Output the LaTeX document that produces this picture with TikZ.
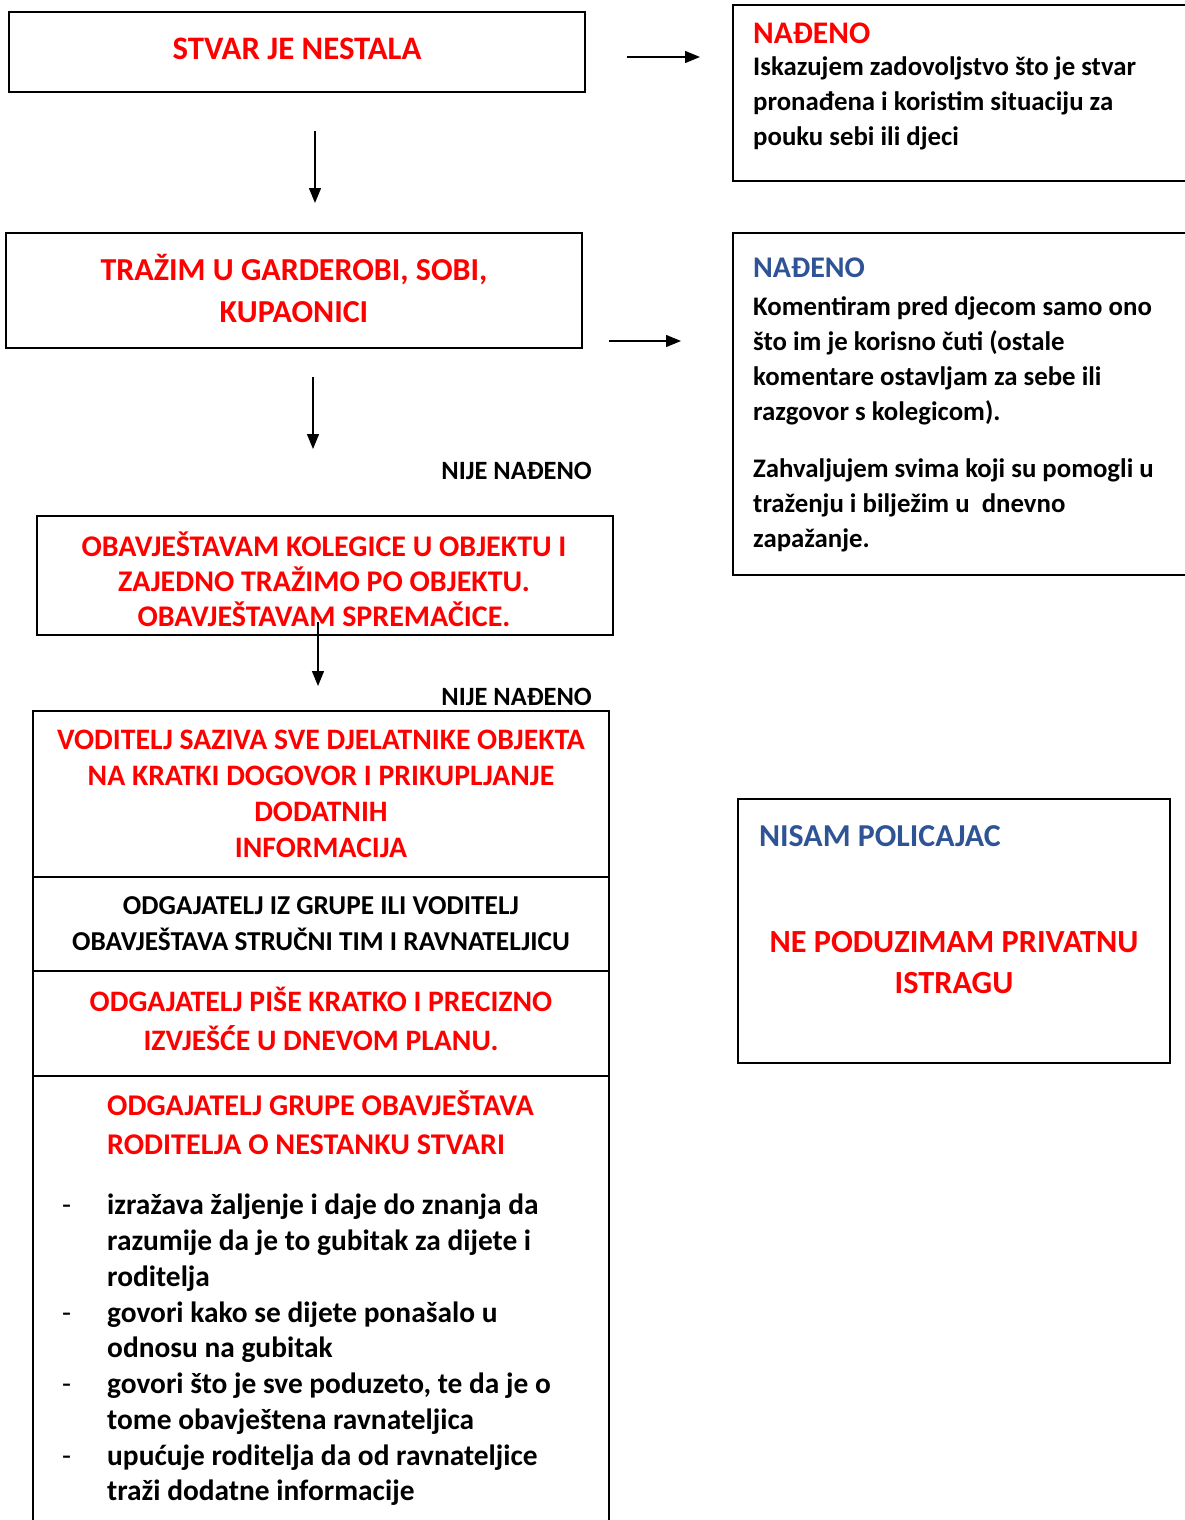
\documentclass[tikz,border=0pt]{standalone}
\usepackage{fontspec}
\setmainfont{Carlito}
\usetikzlibrary{arrows.meta}
\definecolor{wred}{RGB}{255,0,0}
\definecolor{wblue}{RGB}{47,84,150}
\newcommand{\fsz}[2]{\fontsize{#1}{#2}\selectfont}
\newcommand{\dashitem}{\makebox[45pt][l]{\mdseries -}}
\newcommand{\contitem}{\makebox[45pt][l]{}}
\begin{document}
\begin{tikzpicture}[x=1pt,y=-1pt,
  box/.style={draw=black, line width=1.6pt, inner sep=0pt},
  arr/.style={line width=1.4pt, -{Triangle[length=15pt,width=12pt]}},
  txt/.style={inner sep=0pt, font=\bfseries},
  redc/.style={txt, text=wred, align=center},
  blkc/.style={txt, text=black, align=center},
  blkl/.style={txt, text=black, align=left, anchor=west},
  redl/.style={txt, text=wred, align=left, anchor=west},
  bluel/.style={txt, text=wblue, align=left, anchor=west}
]
\useasboundingbox (0,0) rectangle (1185,1520);
\fill[white] (0,0) rectangle (1185,1520);

% left column boxes
\node[box, minimum width=576pt, minimum height=80pt] (b1) at (297,52) {};
\node[redc, font=\bfseries\fsz{32.8}{39}] (t1) at (297,49) {STVAR JE NESTALA};

\node[box, minimum width=576pt, minimum height=115pt] (b2) at (294,290.5) {};
\node[redc, font=\bfseries\fsz{32}{42}] (t2) at (294,288) {TRAŽIM U GARDEROBI, SOBI,\\KUPAONICI};

\node[txt, anchor=east, font=\bfseries\fsz{26.4}{32}] (n1) at (592,471) {NIJE NAĐENO};

\node[box, minimum width=576pt, minimum height=119pt] (b3) at (325,575.5) {};
\node[redc, font=\bfseries\fsz{30}{35}] (t3) at (324,579.5) {OBAVJEŠTAVAM KOLEGICE U OBJEKTU I\\ZAJEDNO TRAŽIMO PO OBJEKTU.\\OBAVJEŠTAVAM SPREMAČICE.};

\node[txt, anchor=east, font=\bfseries\fsz{26.4}{32}] (n2) at (592,697) {NIJE NAĐENO};

\node[box, minimum width=576pt, minimum height=166pt] (s1) at (321,794) {};
\node[redc, font=\bfseries\fsz{29.7}{36}] (ts1) at (321,793.5) {VODITELJ SAZIVA SVE DJELATNIKE OBJEKTA\\NA KRATKI DOGOVOR I PRIKUPLJANJE\\DODATNIH\\INFORMACIJA};

\node[box, minimum width=576pt, minimum height=94pt] (s2) at (321,924) {};
\node[blkc, font=\bfseries\fsz{27.3}{36}] (ts2) at (321,923.5) {ODGAJATELJ IZ GRUPE ILI VODITELJ\\OBAVJEŠTAVA STRUČNI TIM I RAVNATELJICU};

\node[box, minimum width=576pt, minimum height=105pt] (s3) at (321,1023.5) {};
\node[redc, font=\bfseries\fsz{29.7}{39}] (ts3) at (321,1018.5) {ODGAJATELJ PIŠE KRATKO I PRECIZNO\\IZVJEŠĆE U DNEVOM PLANU.};

\node[box, minimum width=576pt, minimum height=454pt] (s4) at (321,1303) {};
\node[redl, font=\bfseries\fsz{30.1}{39}] (ts4) at (107,1122.5) {ODGAJATELJ GRUPE OBAVJEŠTAVA\\RODITELJA O NESTANKU STVARI};
\node[blkl, font=\bfseries\fsz{29.4}{35.75}] (tb) at (62,1350) {\dashitem izražava žaljenje i daje do znanja da\\
\contitem razumije da je to gubitak za dijete i\\
\contitem roditelja\\
\dashitem govori kako se dijete ponašalo u\\
\contitem odnosu na gubitak\\
\dashitem govori što je sve poduzeto, te da je o\\
\contitem tome obavještena ravnateljica\\
\dashitem upućuje roditelja da od ravnateljice\\
\contitem traži dodatne informacije};

% right column boxes
\node[box, minimum width=467pt, minimum height=176pt] (r1) at (966.5,93) {};
\node[redl, font=\bfseries\fsz{31.4}{35}] (r1h) at (753,33) {NAĐENO};
\node[blkl, font=\bfseries\fsz{26.8}{35}] (r1t) at (753,103) {Iskazujem zadovoljstvo što je stvar\\pronađena i koristim situaciju za\\pouku sebi ili djeci};

\node[box, minimum width=467pt, minimum height=342pt] (r2) at (966.5,404) {};
\node[bluel, font=\bfseries\fsz{30}{35}] (r2h) at (753,268) {NAĐENO};
\node[blkl, font=\bfseries\fsz{26.8}{35}] (r2t) at (753,424) {Komentiram pred djecom samo ono\\što im je korisno čuti (ostale\\komentare ostavljam za sebe ili\\razgovor s kolegicom).\\[22pt]Zahvaljujem svima koji su pomogli u\\traženju i bilježim u\ \ dnevno\\zapažanje.};

\node[box, minimum width=432pt, minimum height=264pt] (r3) at (954,931) {};
\node[bluel, font=\bfseries\fsz{31.9}{38}] (r3h) at (759,836) {NISAM POLICAJAC};
\node[redc, font=\bfseries\fsz{32.3}{41}] (r3t) at (954,962.5) {NE PODUZIMAM PRIVATNU\\ISTRAGU};

% arrows
\coordinate (a1s) at (627,57);  \coordinate (a1e) at (700,57);
\coordinate (a2s) at (315,131); \coordinate (a2e) at (315,203);
\coordinate (a3s) at (609,341); \coordinate (a3e) at (681,341);
\coordinate (a4s) at (313,377); \coordinate (a4e) at (313,449);
\coordinate (a5s) at (318,622); \coordinate (a5e) at (318,686);
\draw[arr] (a1s) -- (a1e);
\draw[arr] (a2s) -- (a2e);
\draw[arr] (a3s) -- (a3e);
\draw[arr] (a4s) -- (a4e);
\draw[arr] (a5s) -- (a5e);
\end{tikzpicture}
\end{document}
